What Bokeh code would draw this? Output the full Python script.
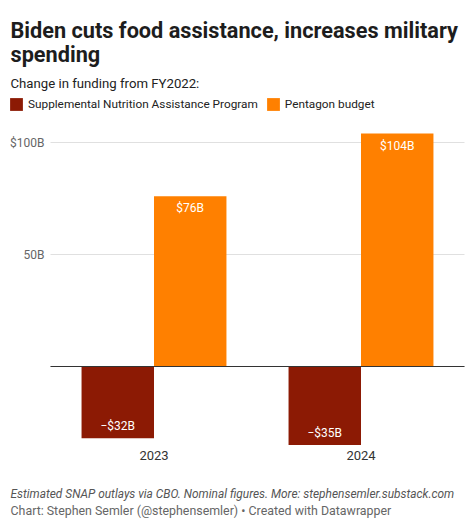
from bokeh.plotting import figure
from bokeh.models import ColumnDataSource, Range1d, Label, Legend, LegendItem
from bokeh.core.properties import value
from bokeh.embed import file_html
from bokeh.resources import INLINE

# ---------------- data ----------------
years = ["2023", "2024"]
snap = [-32, -35]
pentagon = [76, 104]
series_names = ["Supplemental Nutrition Assistance Program", "Pentagon budget"]
y_ticks = [0, 50, 100]
y_tick_labels = ["", "50B", "$100B"]

title_lines = ["Biden cuts food assistance, increases military", "spending"]
subtitle = "Change in funding from FY2022:"
notes = "Estimated SNAP outlays via CBO. Nominal figures. More: stephensemler.substack.com"
byline = "Chart: Stephen Semler (@stephensemler) \u2022 Created with Datawrapper"

# ---------------- style / layout ----------------
SNAP_C = "#8c1a04"
PENT_C = "#ff8000"
FONT = "Roboto"
W, H = 474, 523
PLOT_L, PLOT_R = 50, 464          # plot area, pixels from the left
PLOT_T, PLOT_B = 122, 446         # plot area, pixels from the top
V_TOP, V_BOT = 108.93, -35.71     # values at plot area top / bottom

n = len(years)
px_per_x = (PLOT_R - PLOT_L) / n
px_per_v = (PLOT_B - PLOT_T) / (V_TOP - V_BOT)
x_range = Range1d(-PLOT_L / px_per_x, n + (W - PLOT_R) / px_per_x)
y_range = Range1d(V_BOT - (H - PLOT_B) / px_per_v, V_TOP + PLOT_T / px_per_v)


def fmt(v):
    return ("\u2212$" if v < 0 else "$") + f"{abs(v)}B"


p = figure(width=W, height=H, output_backend="svg", toolbar_location=None,
           x_range=x_range, y_range=y_range,
           x_axis_type=None, y_axis_type=None,
           min_border_left=0, min_border_right=0,
           min_border_top=0, min_border_bottom=0)
p.grid.grid_line_color = None
p.outline_line_color = None
p.background_fill_color = "white"
p.border_fill_color = "white"

# grid lines + tick labels
grid = ColumnDataSource(dict(y=y_ticks, lbl=y_tick_labels,
                             x0=[0] * len(y_ticks), x1=[n] * len(y_ticks)))
p.segment(x0="x0", x1="x1", y0="y", y1="y", source=grid,
          line_color="#e0e0e0", line_width=1)
p.text(x="x0", y="y", text="lbl", source=grid, x_offset=-6,
       text_align="right", text_baseline="middle", text_color="#666666",
       text_font=value(FONT), text_font_size="12px")

# bars
bw = 0.35
xc = [i + 0.5 for i in range(n)]
src = ColumnDataSource(dict(
    xs=[c - bw / 2 for c in xc], xp=[c + bw / 2 for c in xc], xc=xc,
    year=years, snap=snap, pentagon=pentagon, base=[V_BOT] * n,
    snap_lbl=[fmt(v) for v in snap], pent_lbl=[fmt(v) for v in pentagon]))

r1 = p.vbar(x="xs", top="snap", bottom=0, width=bw, fill_color=SNAP_C,
            line_color=None, source=src)
r2 = p.vbar(x="xp", top="pentagon", bottom=0, width=bw, fill_color=PENT_C,
            line_color=None, source=src)

p.text(x="xs", y="snap", text="snap_lbl", source=src, y_offset=-12,
       text_align="center", text_baseline="middle", text_color="white",
       text_font=value(FONT), text_font_size="12px")
p.text(x="xp", y="pentagon", text="pent_lbl", source=src, y_offset=12,
       text_align="center", text_baseline="middle", text_color="white",
       text_font=value(FONT), text_font_size="12px")

# zero baseline
p.segment(x0=[0], x1=[n], y0=[0], y1=[0], line_color="#333333", line_width=1)

# category labels
p.text(x="xc", y="base", text="year", source=src, y_offset=9,
       text_align="center", text_baseline="middle", text_color="#333333",
       text_font=value(FONT), text_font_size="13px")

# legend
legend = Legend(items=[LegendItem(label=series_names[0], renderers=[r1]),
                       LegendItem(label=series_names[1], renderers=[r2])],
                orientation="horizontal", location=(8, H - 112),
                glyph_width=16, glyph_height=16, label_height=16,
                label_standoff=4, spacing=7, padding=0, margin=0,
                border_line_color=None, background_fill_alpha=0,
                label_text_font=FONT, label_text_font_size="11.8px",
                label_text_color="#222222")
p.add_layout(legend)


def lab(txt, x, y_from_top, size, color, style="normal"):
    p.add_layout(Label(x=x, y=H - y_from_top, x_units="screen", y_units="screen",
                       text=txt, text_font=FONT, text_font_size=size,
                       text_color=color, text_font_style=style,
                       text_baseline="alphabetic"))


lab(title_lines[0], 10, 30, "21.7px", "#1d1d1d", "bold")
lab(title_lines[1], 10, 54, "21.7px", "#1d1d1d", "bold")
lab(subtitle, 10, 83, "13.2px", "#222222")
lab(notes, 10, 493, "11.9px", "#555555", "italic")
lab(byline, 10, 510, "12.4px", "#666666")

open("out.html", "w").write(file_html(p, INLINE))
